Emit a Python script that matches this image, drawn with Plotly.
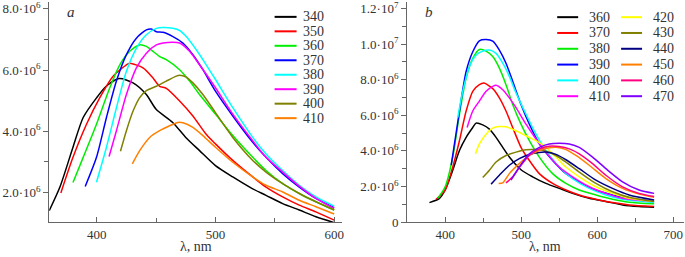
import plotly.graph_objects as go

SCALE = 1e6

# ---------------- Panel a ----------------
a_names = ["340", "350", "360", "370", "380", "390", "400", "410"]
a_colors = ["#000000", "#ff0000", "#00ee00", "#0000ff", "#00ffff", "#ff00ff", "#808000", "#ff8000"]

a_340_x = [360, 369, 380, 388.6, 400, 408, 419, 430.6, 441.8, 450, 464, 475, 486.6, 500, 514.6, 531, 542.6, 556.6, 570.6, 584.6, 600]
a_340_y = [1.41, 2.18, 3.48, 4.45, 5.10, 5.47, 5.72, 5.58, 5.20, 4.72, 4.29, 3.80, 3.37, 2.88, 2.51, 2.13, 1.91, 1.64, 1.43, 1.21, 1.02]

a_350_x = [369.8, 380, 391.4, 402.6, 413.8, 425, 427.8, 439, 447.4, 453, 458.6, 469.8, 481, 492, 500, 514.6, 531.4, 542.6, 556.6, 570.6, 584.6, 600]
a_350_y = [1.99, 3.15, 4.23, 5.10, 5.80, 6.17, 6.22, 6.07, 5.74, 5.47, 5.40, 4.99, 4.50, 3.91, 3.59, 3.05, 2.51, 2.18, 1.86, 1.59, 1.37, 1.10]

a_360_x = [380, 388.6, 399.8, 411, 419.4, 427.8, 436, 441.8, 447.4, 453, 458.6, 469.8, 478.2, 486.6, 500, 514.6, 531.4, 542.6, 556.6, 570.6, 584.6, 600]
a_360_y = [2.33, 3.15, 4.23, 5.42, 6.17, 6.61, 6.82, 6.77, 6.61, 6.44, 6.34, 6.01, 5.64, 5.20, 4.56, 3.86, 3.15, 2.72, 2.29, 1.97, 1.70, 1.43]

a_370_x = [390.3, 399.8, 408.2, 416.6, 425, 433.4, 441.8, 446, 450.2, 455.8, 464.2, 472.6, 481, 489.4, 500, 514.6, 531.4, 542.6, 556.6, 570.6, 584.6, 600]
a_370_y = [2.20, 3.15, 4.45, 5.64, 6.50, 7.04, 7.31, 7.34, 7.25, 7.23, 7.09, 6.88, 6.50, 6.01, 5.31, 4.50, 3.64, 3.15, 2.62, 2.18, 1.81, 1.51]

a_380_x = [399.8, 408.2, 416.6, 425, 433.4, 441.8, 450.2, 455.8, 464.2, 469.8, 475.4, 483.8, 492.2, 500, 514.6, 531.4, 542.6, 556.6, 570.6, 584.6, 600]
a_380_y = [2.34, 3.48, 4.77, 5.96, 6.71, 7.15, 7.36, 7.39, 7.36, 7.29, 7.09, 6.66, 6.17, 5.69, 4.77, 3.80, 3.26, 2.72, 2.24, 1.86, 1.56]

a_390_x = [410.4, 416.6, 425, 433.4, 441.8, 450.2, 455.8, 464.2, 469.8, 478.2, 486.6, 500, 514.6, 531.4, 542.6, 556.6, 570.6, 584.6, 600]
a_390_y = [3.18, 4.02, 5.20, 6.07, 6.55, 6.82, 6.88, 6.91, 6.88, 6.61, 6.17, 5.42, 4.56, 3.69, 3.15, 2.67, 2.21, 1.81, 1.48]

a_400_x = [420, 425, 430.6, 436.2, 441.8, 450.2, 458.6, 467, 469.8, 475.4, 481, 489.4, 500, 514.6, 531.4, 542.6, 556.6, 570.6, 584.6, 600]
a_400_y = [3.35, 4.02, 4.66, 5.10, 5.33, 5.47, 5.64, 5.80, 5.83, 5.77, 5.58, 5.20, 4.61, 3.80, 3.05, 2.67, 2.29, 1.97, 1.70, 1.43]

a_410_x = [430, 436.2, 444.6, 453, 461.4, 468.4, 472.6, 481, 489.4, 500, 514.6, 531.4, 542.6, 556.6, 570.6, 584.6, 600]
a_410_y = [2.94, 3.37, 3.80, 4.02, 4.18, 4.29, 4.28, 4.13, 3.86, 3.48, 2.99, 2.51, 2.24, 2.02, 1.75, 1.54, 1.30]

a_xs = [a_340_x, a_350_x, a_360_x, a_370_x, a_380_x, a_390_x, a_400_x, a_410_x]
a_ys = [a_340_y, a_350_y, a_360_y, a_370_y, a_380_y, a_390_y, a_400_y, a_410_y]

# ---------------- Panel b ----------------
b_names = ["360", "370", "380", "390", "400", "410", "420", "430", "440", "450", "460", "470"]
b_colors = ["#000000", "#ff0000", "#00ee00", "#0000ff", "#00ffff", "#ff00ff",
            "#ffff00", "#808000", "#000080", "#ff8000", "#ff0080", "#8000ff"]

b_360_x = [379.4, 392.6, 400, 410, 418.8, 427.6, 436.3, 440.7, 449.4, 458.2, 466.9, 475.7, 484.4, 499.7, 515, 532.5, 550, 567.5, 589.4, 611.3, 633.2, 655, 674.7]
b_360_y = [1.09, 1.33, 1.80, 2.91, 4.02, 4.76, 5.31, 5.56, 5.46, 5.22, 4.76, 4.20, 3.65, 2.94, 2.54, 2.17, 1.89, 1.61, 1.33, 1.15, 0.96, 0.87, 0.83]

b_370_x = [388.2, 400, 410, 418.8, 427.6, 436.3, 445, 451, 462.6, 471.3, 480, 488.8, 499.7, 510.7, 523.8, 541.3, 558.8, 576.3, 598.2, 620, 641.9, 674.7]
b_370_y = [1.28, 1.80, 3.09, 4.57, 6.24, 7.35, 7.72, 7.81, 7.50, 6.98, 6.24, 5.31, 4.20, 3.46, 2.72, 2.17, 1.80, 1.52, 1.28, 1.09, 0.96, 0.87]

b_380_x = [390.4, 400, 410, 418.8, 427.6, 436.3, 445, 453.8, 462.6, 471.3, 480, 488.8, 499.7, 510.7, 523.8, 541.3, 558.8, 576.3, 598.2, 620, 641.9, 674.7]
b_380_y = [1.33, 1.98, 3.65, 6.06, 8.09, 9.20, 9.70, 9.61, 9.30, 8.65, 7.72, 6.61, 5.50, 4.57, 3.65, 2.72, 2.17, 1.80, 1.52, 1.28, 1.11, 1.02]

b_390_x = [408, 418.8, 427.6, 436.3, 445, 453.8, 462.6, 471.3, 480, 488.8, 499.7, 510.7, 523.8, 541.3, 558.8, 576.3, 598.2, 620, 641.9, 674.7]
b_390_y = [3.20, 6.24, 8.46, 9.57, 10.19, 10.26, 10.17, 9.67, 8.93, 7.91, 6.61, 5.50, 4.39, 3.46, 2.72, 2.26, 1.80, 1.52, 1.33, 1.15]

b_400_x = [416.6, 423.2, 431.9, 440.7, 449.4, 458.2, 466.9, 475.7, 484.4, 493.2, 506.3, 519.4, 532.5, 550, 567.5, 589.4, 611.3, 633.2, 674.7]
b_400_y = [5.87, 7.35, 8.74, 9.39, 9.61, 9.67, 9.48, 8.93, 8.19, 7.26, 6.06, 4.94, 4.02, 3.09, 2.44, 1.89, 1.52, 1.28, 1.09]

b_410_x = [428.9, 436.3, 445, 453.8, 462.6, 466.9, 475.7, 484.4, 493.2, 506.3, 519.4, 532.5, 550, 567.5, 589.4, 611.3, 633.2, 674.7]
b_410_y = [5.31, 6.24, 6.80, 7.35, 7.63, 7.69, 7.44, 6.98, 6.43, 5.50, 4.67, 3.93, 3.09, 2.54, 1.98, 1.61, 1.33, 1.15]

b_420_x = [439.8, 445, 453.8, 462.6, 471.3, 480, 493.2, 506.3, 519.4, 532.5, 545.7, 558.8, 576.3, 598.2, 620, 641.9, 674.7]
b_420_y = [3.83, 4.39, 4.94, 5.28, 5.37, 5.35, 5.13, 4.85, 4.57, 4.20, 3.65, 3.09, 2.54, 1.98, 1.61, 1.33, 1.15]

b_430_x = [449.4, 458.2, 466.9, 480, 493.2, 506.3, 519.4, 532.5, 545.7, 558.8, 576.3, 598.2, 620, 641.9, 674.7]
b_430_y = [2.50, 2.91, 3.37, 3.74, 3.93, 4.06, 4.07, 3.98, 3.74, 3.37, 2.81, 2.17, 1.70, 1.39, 1.15]

b_440_x = [460.4, 471.3, 484.4, 497.5, 510.7, 523.8, 532.5, 545.7, 558.8, 576.3, 598.2, 620, 641.9, 674.7]
b_440_y = [2.13, 2.63, 3.19, 3.56, 3.80, 3.91, 3.93, 3.80, 3.50, 3.00, 2.35, 1.89, 1.52, 1.24]

b_450_x = [470.4, 475.7, 484.4, 497.5, 510.7, 523.8, 536.9, 545.7, 558.8, 571.9, 589.4, 611.3, 633.2, 655, 674.7]
b_450_y = [2.17, 2.20, 2.72, 3.28, 3.74, 4.02, 4.17, 4.20, 4.07, 3.74, 3.19, 2.44, 1.89, 1.57, 1.39]

b_460_x = [480, 488.8, 499.7, 510.7, 523.8, 536.9, 550, 563.2, 576.3, 593.8, 611.3, 633.2, 655, 674.7]
b_460_y = [2.20, 2.54, 3.19, 3.74, 4.11, 4.26, 4.24, 4.11, 3.83, 3.28, 2.63, 1.98, 1.61, 1.43]

b_470_x = [486.6, 497.5, 510.7, 523.8, 536.9, 550, 563.2, 576.3, 593.8, 611.3, 633.2, 655, 674.7]
b_470_y = [2.35, 3.09, 3.83, 4.20, 4.39, 4.43, 4.39, 4.20, 3.65, 3.00, 2.26, 1.80, 1.61]

b_xs = [b_360_x, b_370_x, b_380_x, b_390_x, b_400_x, b_410_x, b_420_x, b_430_x, b_440_x, b_450_x, b_460_x, b_470_x]
b_ys = [b_360_y, b_370_y, b_380_y, b_390_y, b_400_y, b_410_y, b_420_y, b_430_y, b_440_y, b_450_y, b_460_y, b_470_y]

# tick labels
a_yticks = [2e6, 4e6, 6e6, 8e6]
a_yticktext = ["2.0·10<sup>6</sup>", "4.0·10<sup>6</sup>", "6.0·10<sup>6</sup>", "8.0·10<sup>6</sup>"]
a_xticks = [400, 500, 600]
b_yticks = [0, 2e6, 4e6, 6e6, 8e6, 10e6, 12e6]
b_yticktext = ["0", "2.0·10<sup>6</sup>", "4.0·10<sup>6</sup>", "6.0·10<sup>6</sup>",
               "8.0·10<sup>6</sup>", "1.0·10<sup>7</sup>", "1.2·10<sup>7</sup>"]
b_xticks = [400, 500, 600, 700]

FONT = "Liberation Serif, Times New Roman, serif"
TXT = "#333333"
AX = "#666666"
W, H = 685, 257
MB = 35
PH = H - MB

fig = go.Figure()
for name, col, xs, ys in zip(a_names, a_colors, a_xs, a_ys):
    fig.add_trace(go.Scatter(x=xs, y=[v * SCALE for v in ys], mode="lines", name=name,
                             line=dict(color=col, width=1.5, shape="spline", smoothing=0.7),
                             xaxis="x", yaxis="y", showlegend=False, hoverinfo="skip"))
for name, col, xs, ys in zip(b_names, b_colors, b_xs, b_ys):
    fig.add_trace(go.Scatter(x=xs, y=[v * SCALE for v in ys], mode="lines", name=name,
                             line=dict(color=col, width=1.5, shape="spline", smoothing=0.7),
                             xaxis="x2", yaxis="y2", showlegend=False, hoverinfo="skip"))

base_x = dict(showline=True, linecolor=AX, linewidth=1, ticks="inside", ticklen=5, tickcolor=AX,
              showgrid=False, zeroline=False, tickfont=dict(family=FONT, size=13, color=TXT),
              ticklabeloverflow="allow", fixedrange=True,
              minor=dict(ticks="inside", ticklen=4, tickcolor=AX, tick0=0, dtick=50))
base_y = dict(showline=True, linecolor=AX, linewidth=1, ticks="outside", ticklen=5, tickcolor=AX,
              showgrid=False, zeroline=False, tickfont=dict(family=FONT, size=13, color=TXT),
              ticklabeloverflow="allow", fixedrange=True,
              minor=dict(ticks="outside", ticklen=4, tickcolor=AX, tick0=0, dtick=1e6))

fig.update_layout(
    width=W, height=H, margin=dict(l=0, r=0, t=0, b=MB),
    paper_bgcolor="white", plot_bgcolor="white",
    font=dict(family=FONT, color=TXT),
    xaxis=dict(domain=[49.3 / W, 343 / W], range=[360, 607], tickvals=a_xticks, anchor="y", **base_x),
    yaxis=dict(domain=[0, 1], range=[1.04e6, 8.22e6], tickvals=a_yticks, ticktext=a_yticktext,
               anchor="x", **base_y),
    xaxis2=dict(domain=[407.7 / W, 1.0], range=[350, 714], tickvals=b_xticks, anchor="y2", **base_x),
    yaxis2=dict(domain=[0, 1], range=[0, 12.37e6], tickvals=b_yticks, ticktext=b_yticktext,
                anchor="x2", **base_y),
    showlegend=False,
)


def px(x):
    return x / W


def py(y):
    return (PH - y) / PH


annots = []
shapes = []
for xc in [196, 546]:
    annots.append(dict(x=px(xc), y=py(247), xref="paper", yref="paper", text="λ, nm", showarrow=False,
                       font=dict(family=FONT, size=14, color=TXT), xanchor="center", yanchor="middle"))
annots.append(dict(x=px(71), y=py(10), xref="paper", yref="paper", text="<i>a</i>", showarrow=False,
                   font=dict(family=FONT, size=15, color=TXT), xanchor="center", yanchor="middle"))
annots.append(dict(x=px(430), y=py(10), xref="paper", yref="paper", text="<i>b</i>", showarrow=False,
                   font=dict(family=FONT, size=15, color=TXT), xanchor="center", yanchor="middle"))

for i, (name, col) in enumerate(zip(a_names, a_colors)):
    yy = 15 + 14.6 * i
    shapes.append(dict(type="line", xref="paper", yref="paper", x0=px(275), x1=px(297), y0=py(yy), y1=py(yy),
                       line=dict(color=col, width=2)))
    annots.append(dict(x=px(301), y=py(yy), xref="paper", yref="paper", text=name, showarrow=False,
                       font=dict(family=FONT, size=14, color=TXT), xanchor="left", yanchor="middle"))

for i, (name, col) in enumerate(zip(b_names, b_colors)):
    row = i % 6
    c = i // 6
    yy = 15.3 + 15.95 * row
    x0, x1, xt = (558, 579, 588) if c == 0 else (622, 643, 652)
    shapes.append(dict(type="line", xref="paper", yref="paper", x0=px(x0), x1=px(x1), y0=py(yy), y1=py(yy),
                       line=dict(color=col, width=2)))
    annots.append(dict(x=px(xt), y=py(yy), xref="paper", yref="paper", text=name, showarrow=False,
                       font=dict(family=FONT, size=14, color=TXT), xanchor="left", yanchor="middle"))

fig.update_layout(annotations=annots, shapes=shapes)
fig.write_html("out.html", config={"displayModeBar": False, "staticPlot": True},
               post_script="document.body.style.margin='0';document.body.style.overflow='hidden';")
